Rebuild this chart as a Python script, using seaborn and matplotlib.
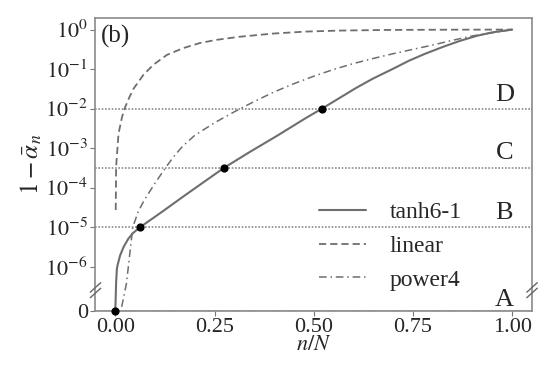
import numpy as np
import pandas as pd
import matplotlib
matplotlib.use("Agg")
import matplotlib.pyplot as plt
import matplotlib.transforms as mtransforms
import seaborn as sns

# ---- data ----
tanh_x = [0.0, 0.002, 0.004, 0.006, 0.012, 0.021, 0.033, 0.045, 0.063, 0.117, 0.172, 0.247,
          0.274, 0.34, 0.406, 0.48, 0.521, 0.606, 0.65, 0.70, 0.74, 0.78, 0.825, 0.867,
          0.91, 0.95, 1.0]
tanh_y = [0.0, 4.0e-7, 8.9e-7, 1.12e-6, 1.9e-6, 3.16e-6, 5.1e-6, 7.1e-6, 1.0e-5, 2.4e-5,
          6.0e-5, 2.04e-4, 3.16e-4, 8.1e-4, 2.0e-3, 5.75e-3, 1.0e-2, 3.3e-2, 5.8e-2, 0.102,
          0.163, 0.243, 0.363, 0.513, 0.692, 0.851, 1.0]

linear_x = [0.001, 0.002, 0.008, 0.017, 0.025, 0.035, 0.046, 0.071, 0.096, 0.13,
            0.171, 0.213, 0.255, 0.314, 0.398, 0.48, 0.565, 0.69, 0.85, 1.0]
linear_y = [2.7e-5, 3.4e-4, 2.3e-3, 6.2e-3, 1.1e-2, 1.9e-2, 3.2e-2, 7.2e-2, 0.129, 0.229,
            0.339, 0.457, 0.55, 0.66, 0.794, 0.891, 0.944, 0.982, 0.995, 1.0]

power4_x = [0.016, 0.028, 0.044, 0.058, 0.074, 0.10, 0.13, 0.15, 0.17, 0.20, 0.25, 0.30,
            0.35, 0.40, 0.45, 0.50, 0.55, 0.60, 0.65, 0.70, 0.75, 0.80, 0.85, 0.90, 0.95, 1.0]
power4_y = [9.5e-8, 3.7e-7, 1.0e-5, 2.5e-5, 5.0e-5, 1.29e-4, 3.55e-4, 6.6e-4, 1.12e-3,
            2.09e-3, 4.37e-3, 8.3e-3, 1.51e-2, 2.63e-2, 4.27e-2, 6.6e-2, 9.8e-2, 0.138,
            0.186, 0.245, 0.316, 0.407, 0.537, 0.692, 0.832, 1.0]

level_names = ["A", "B", "C", "D"]
level_values = [0.0, 1.0e-5, 3.16e-4, 1.0e-2]
dot_x = [0.0, 0.063, 0.274, 0.521]
dot_y = [0.0, 1.0e-5, 3.16e-4, 1.0e-2]

yticks = [0.0, 1e-6, 1e-5, 1e-4, 1e-3, 1e-2, 1e-1, 1e0]
ytick_labels = ["0", r"$10^{-6}$", r"$10^{-5}$", r"$10^{-4}$", r"$10^{-3}$",
                r"$10^{-2}$", r"$10^{-1}$", r"$10^{0}$"]
xticks = [0.0, 0.25, 0.5, 0.75, 1.0]
xtick_labels = ["0.00", "0.25", "0.50", "0.75", "1.00"]

# ---- style ----
sns.set_style("ticks")
plt.rcParams["font.family"] = ["Liberation Serif", "DejaVu Serif"]
plt.rcParams["mathtext.fontset"] = "stix"

FLOOR = 10 ** -7.12


def fwd(y):
    y = np.asarray(y, dtype=float)
    return np.log10(np.clip(y, FLOOR, None))


def inv(v):
    return 10.0 ** np.asarray(v, dtype=float)


fig = plt.figure(figsize=(5.41, 3.66), dpi=100)
ax = fig.add_axes([0.1765, 0.151, 0.8069, 0.8005])

line_col = "#6e6e6e"
sns.lineplot(x=tanh_x, y=tanh_y, ax=ax, color=line_col, lw=1.5, ls="-",
             label="tanh6-1", sort=False)
sns.lineplot(x=linear_x, y=linear_y, ax=ax, color=line_col, lw=1.3, ls=(0, (4, 2.2)),
             label="linear", sort=False)
sns.lineplot(x=power4_x, y=power4_y, ax=ax, color=line_col, lw=1.1,
             ls=(0, (5, 2.5, 1, 2.5)), label="power4", sort=False)

ax.set_yscale("function", functions=(fwd, inv))

for v in level_values:
    ax.axhline(v, color="#8a8a8a", lw=1.2, ls=(0, (1, 1)), zorder=1)

ax.scatter(dot_x, dot_y, s=24, color="black", zorder=5, clip_on=False)

label_pos = {"A": 10 ** -6.86, "B": 10 ** -4.65, "C": 10 ** -3.13, "D": 10 ** -1.66}
for name in level_names:
    ax.text(0.98, label_pos[name], name, ha="center", va="center", fontsize=19)

ax.set_xlim(-0.05, 1.05)
ax.set_ylim(0.0, 10 ** 0.30)
ax.set_yticks(yticks)
ax.set_yticklabels(ytick_labels)
ax.set_xticks(xticks)
ax.set_xticklabels(xtick_labels)
ax.minorticks_off()
ax.tick_params(axis="both", labelsize=16, direction="out", length=3.5, width=0.8,
               color="#777777", pad=2)

for sp in ax.spines.values():
    sp.set_color("#8a8a8a")
    sp.set_linewidth(1.2)

ax.set_xlabel(r"$n/N$", fontsize=16, labelpad=-1)
ax.set_ylabel(r"$1-\bar{\alpha}_n$", fontsize=18, labelpad=1)

ax.text(0.012, 0.975, "(b)", transform=ax.transAxes, ha="left", va="top", fontsize=18)

# axis break marks
brk_y = fwd(10 ** -6.6)
trans = mtransforms.blended_transform_factory(ax.transAxes, ax.transData)
for xa in (0.0, 1.0):
    for dy in (-0.07, 0.07):
        ax.plot([xa - 0.012, xa + 0.012], [10 ** (brk_y - 0.12 + dy), 10 ** (brk_y + 0.12 + dy)],
                transform=trans, color="#666666", lw=1.0, clip_on=False, zorder=6)

leg = ax.legend(loc="upper left", bbox_to_anchor=(0.49, 0.405), frameon=False,
                fontsize=17, handlelength=2.0, handletextpad=1.0, labelspacing=0.52,
                borderaxespad=0)

fig.savefig("out.png", dpi=100)
